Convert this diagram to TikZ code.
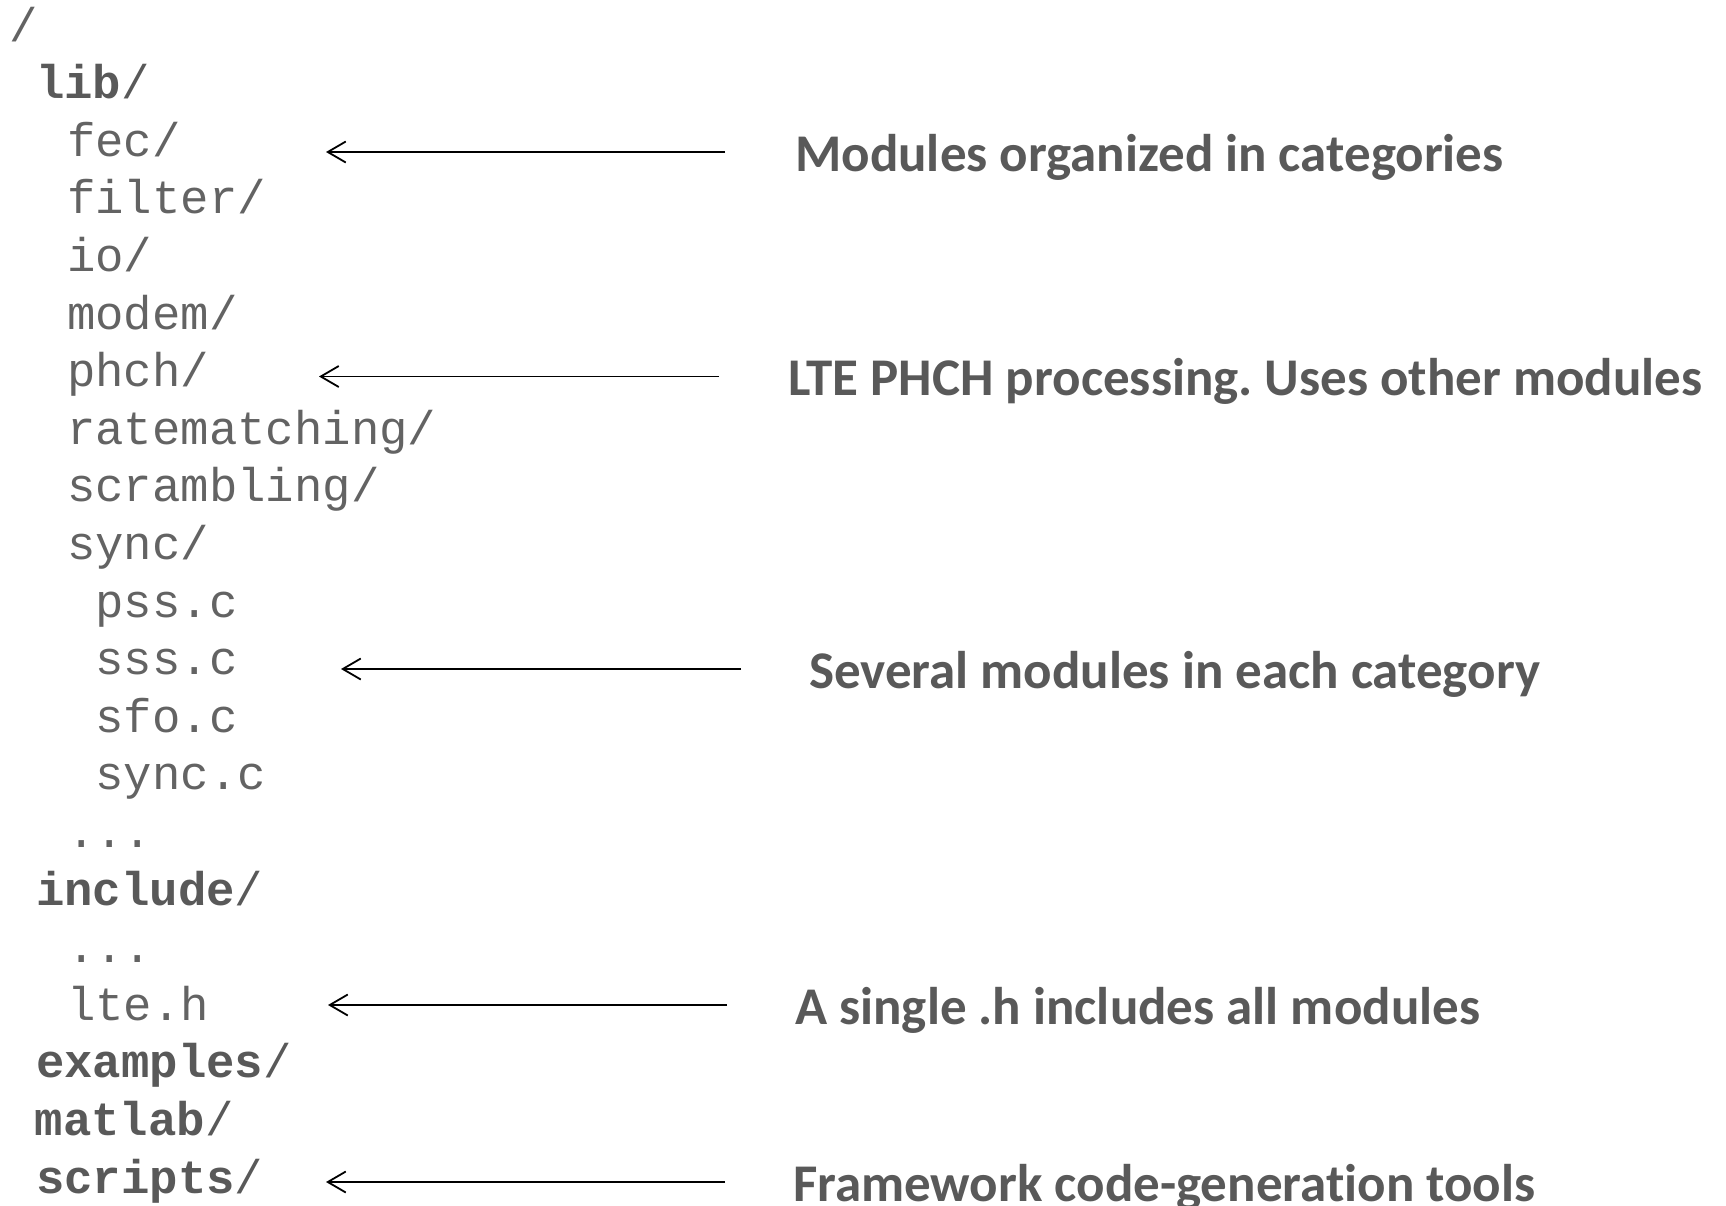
\documentclass[tikz,border=0pt]{standalone}
\usepackage{fontspec}
\usetikzlibrary{arrows.meta}
\newfontfamily\treefont{Liberation Mono}
\newfontfamily\notefont[Ligatures={NoCommon}]{Carlito}
\definecolor{txt}{HTML}{595959}
\definecolor{thin}{HTML}{636363}
\frenchspacing
\begin{document}
\begin{tikzpicture}[x=1pt,y=-1pt,
  tree/.style={anchor=base west, inner sep=0pt, text=thin,
    font=\treefont\fontsize{47.3}{47.3}\selectfont},
  dir/.style={tree, text=txt},
  note/.style={anchor=base west, inner sep=0pt, text=txt,
    font=\notefont\bfseries\fontsize{53}{53}\selectfont},
  ptr/.style={draw=black, line width=1.8pt,
    -{Straight Barb[length=18pt,width=21pt,line width=1.8pt]}}]
\useasboundingbox (0,0) rectangle (1726,1205);
% directory tree: row i has its baseline at 41 + 57.6i
\node[tree] (r0)  at (9.2, 41.0)   {/};
\node[dir]  (r1)  at (36.0, 98.6)  {\textbf{lib}/};
\node[tree] (r2)  at (67.0, 156.2) {fec/};
\node[tree] (r3)  at (67.0, 213.8) {filter/};
\node[tree] (r4)  at (67.0, 271.4) {io/};
\node[tree] (r5)  at (67.0, 329.0) {modem/};
\node[tree] (r6)  at (67.0, 386.6) {phch/};
\node[tree] (r7)  at (67.0, 444.2) {ratematching/};
\node[tree] (r8)  at (67.0, 501.8) {scrambling/};
\node[tree] (r9)  at (67.0, 559.4) {sync/};
\node[tree] (r10) at (95.4, 617.0) {pss.c};
\node[tree] (r11) at (95.4, 674.6) {sss.c};
\node[tree] (r12) at (95.4, 732.2) {sfo.c};
\node[tree] (r13) at (95.4, 789.8) {sync.c};
\node[tree] (r14) at (67.0, 847.4) {...};
\node[dir]  (r15) at (36.0, 905.0) {\textbf{include}/};
\node[tree] (r16) at (67.0, 962.6) {...};
\node[tree] (r17) at (67.0, 1020.2) {lte.h};
\node[dir]  (r18) at (36.0, 1077.8) {\textbf{examples}/};
\node[dir]  (r19) at (34.5, 1135.4) {\textbf{matlab}/};
\node[dir]  (r20) at (36.0, 1193.0) {\textbf{scripts}/};
% annotations
\node[note] (n1) at (795, 171) {Modules organized in categories};
\node[note] (n2) at (788, 395) {LTE PHCH processing. Uses other modules};
\node[note] (n3) at (809, 688) {Several modules in each category};
\node[note] (n4) at (795, 1024) {A single .h includes all modules};
\node[note] (n5) at (793, 1201) {Framework code-generation tools};
% pointer arrows
\coordinate (s1) at (725, 152);  \coordinate (t1) at (326, 152);
\coordinate (s2) at (719, 376.5);\coordinate (t2) at (319, 376.5);
\coordinate (s3) at (741, 669);  \coordinate (t3) at (341, 669);
\coordinate (s4) at (727, 1005); \coordinate (t4) at (328, 1005);
\coordinate (s5) at (725, 1182); \coordinate (t5) at (326, 1182);
\foreach \k in {1,...,5} \draw[ptr] (s\k) -- (t\k);
\end{tikzpicture}
\end{document}
